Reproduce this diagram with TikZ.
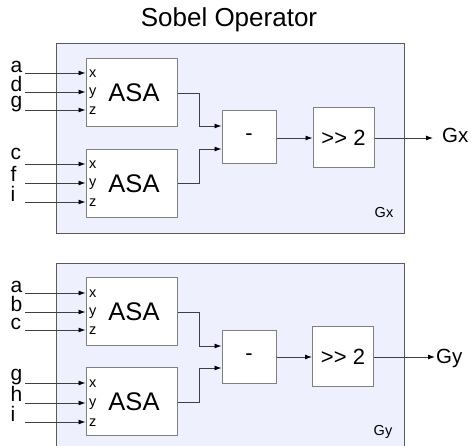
\documentclass[tikz,border=0pt]{standalone}
\usepackage{fontspec}
\setmainfont{Liberation Sans}
\usetikzlibrary{arrows.meta,calc}
\definecolor{panelfill}{HTML}{EEF0FE}
\definecolor{panelline}{HTML}{5A5A5A}
\definecolor{boxline}{HTML}{808080}
\definecolor{wire}{HTML}{404040}
\begin{document}
\begin{tikzpicture}[x=1pt,y=-1pt,
  panel/.style={fill=panelfill,draw=panelline,line width=1pt,inner sep=0pt,anchor=north west,minimum width=348pt,minimum height=190pt},
  blockbox/.style={draw=boxline,fill=white,line width=1pt,inner sep=0pt},
  asabox/.style={blockbox,minimum width=91pt,minimum height=68pt,font=\fontsize{25.5}{25.5}\selectfont},
  minusbox/.style={blockbox,minimum width=54pt,minimum height=53pt,font=\fontsize{22}{22}\selectfont},
  shiftbox/.style={blockbox,minimum width=61pt,minimum height=60pt,font=\fontsize{22}{22}\selectfont},
  wirearrow/.style={draw=wire,line width=0.9pt,-{Latex[length=7pt,width=5pt,color=black]}},
  inlbl/.style={anchor=base west,inner sep=0pt,font=\fontsize{21}{21}\selectfont},
  portlbl/.style={anchor=base west,inner sep=0pt,font=\fontsize{14.5}{14.5}\selectfont},
  outlbl/.style={anchor=base west,inner sep=0pt,font=\fontsize{20.5}{20.5}\selectfont},
  panellbl/.style={inner sep=0pt,font=\fontsize{14.5}{14.5}\selectfont},
  titlelbl/.style={anchor=base,inner sep=0pt,font=\fontsize{26}{26}\selectfont}
]
\useasboundingbox (0,0) rectangle (472,446);
\begin{scope}
\clip (0,0) rectangle (472,446);
\node[panel] (p1) at (56,43) {};
\node[panel] (p2) at (56,263) {};
\end{scope}

\node[titlelbl] (title) at (229,27) {Sobel Operator};
\node[panellbl] (p1lbl) at (384,213) {Gx};
\node[panellbl] (p2lbl) at (383,432) {Gy};

% blocks
\node[asabox] (a1) at (131.5,93) {\hspace*{5pt}ASA};
\node[asabox] (a2) at (131.5,183.5) {\hspace*{5pt}ASA};
\node[asabox] (a3) at (131.5,312) {\hspace*{5pt}ASA};
\node[asabox] (a4) at (131.5,402) {\hspace*{5pt}ASA};
\node[minusbox] (m1) at (249,137.5) {-};
\node[minusbox] (m2) at (249,357.5) {-};
\node[shiftbox] (s1) at (343.5,138) {>{}> 2};
\node[shiftbox] (s2) at (343,357) {>{}> 2};

% input coordinates
\coordinate (i1) at (25,73);
\coordinate (i2) at (25,92);
\coordinate (i3) at (25,110);
\coordinate (i4) at (25,164);
\coordinate (i5) at (25,183);
\coordinate (i6) at (25,202);
\coordinate (i7) at (25,293);
\coordinate (i8) at (25,312);
\coordinate (i9) at (25,330);
\coordinate (i10) at (25,383);
\coordinate (i11) at (25,403);
\coordinate (i12) at (25,422);

% input labels
\node[inlbl] (l1) at (10.5,72.5) {a};
\node[inlbl] (l2) at (10.5,91.5) {d};
\node[inlbl] (l3) at (10.5,108) {g};
\node[inlbl] (l4) at (10.5,160) {c};
\node[inlbl] (l5) at (10.5,182) {f};
\node[inlbl] (l6) at (10.5,201.5) {i};
\node[inlbl] (l7) at (10.5,292.5) {a};
\node[inlbl] (l8) at (10.5,311.5) {b};
\node[inlbl] (l9) at (10.5,329.5) {c};
\node[inlbl] (l10) at (10.5,381) {g};
\node[inlbl] (l11) at (10.5,402) {h};
\node[inlbl] (l12) at (10.5,421.5) {i};

% input arrows
\draw[wirearrow] (i1) -- (i1 -| a1.west);
\draw[wirearrow] (i2) -- (i2 -| a1.west);
\draw[wirearrow] (i3) -- (i3 -| a1.west);
\draw[wirearrow] (i4) -- (i4 -| a2.west);
\draw[wirearrow] (i5) -- (i5 -| a2.west);
\draw[wirearrow] (i6) -- (i6 -| a2.west);
\draw[wirearrow] (i7) -- (i7 -| a3.west);
\draw[wirearrow] (i8) -- (i8 -| a3.west);
\draw[wirearrow] (i9) -- (i9 -| a3.west);
\draw[wirearrow] (i10) -- (i10 -| a4.west);
\draw[wirearrow] (i11) -- (i11 -| a4.west);
\draw[wirearrow] (i12) -- (i12 -| a4.west);

% port labels
\node[portlbl] (x1) at (89,77.5) {x};
\node[portlbl] (y1) at (89,96) {y};
\node[portlbl] (z1) at (89,114.5) {z};
\node[portlbl] (x2) at (89,168.5) {x};
\node[portlbl] (y2) at (89,187) {y};
\node[portlbl] (z2) at (89,206.5) {z};
\node[portlbl] (x3) at (89,297.5) {x};
\node[portlbl] (y3) at (89,316) {y};
\node[portlbl] (z3) at (89,334.5) {z};
\node[portlbl] (x4) at (89,387.5) {x};
\node[portlbl] (y4) at (89,407) {y};
\node[portlbl] (z4) at (89,426.5) {z};

% minus inputs
\coordinate (m1a) at ($(m1.west)+(0,-11.5)$);
\coordinate (m1b) at ($(m1.west)+(0,11.5)$);
\coordinate (m2a) at ($(m2.west)+(0,-11.5)$);
\coordinate (m2b) at ($(m2.west)+(0,10.5)$);
\draw[wirearrow] (a1.east) -| ($(a1.east)!.5!(m1a)$) |- (m1a);
\draw[wirearrow] (a2.east) -| ($(a2.east)!.5!(m1b)$) |- (m1b);
\draw[wirearrow] (a3.east) -| ($(a3.east)!.5!(m2a)$) |- (m2a);
\draw[wirearrow] (a4.east) -| ($(a4.east)!.5!(m2b)$) |- (m2b);

% minus to shift
\draw[wirearrow] (m1.east |- s1.west) -- (s1.west);
\draw[wirearrow] (m2.east |- s2.west) -- (s2.west);

% outputs
\coordinate (o1) at (433,138);
\coordinate (o2) at (435,357);
\draw[wirearrow] (s1.east) -- (o1);
\draw[wirearrow] (s2.east) -- (o2);
\node[outlbl] (gx) at (442,142.5) {Gx};
\node[outlbl] (gy) at (436,363.5) {Gy};
\end{tikzpicture}
\end{document}
